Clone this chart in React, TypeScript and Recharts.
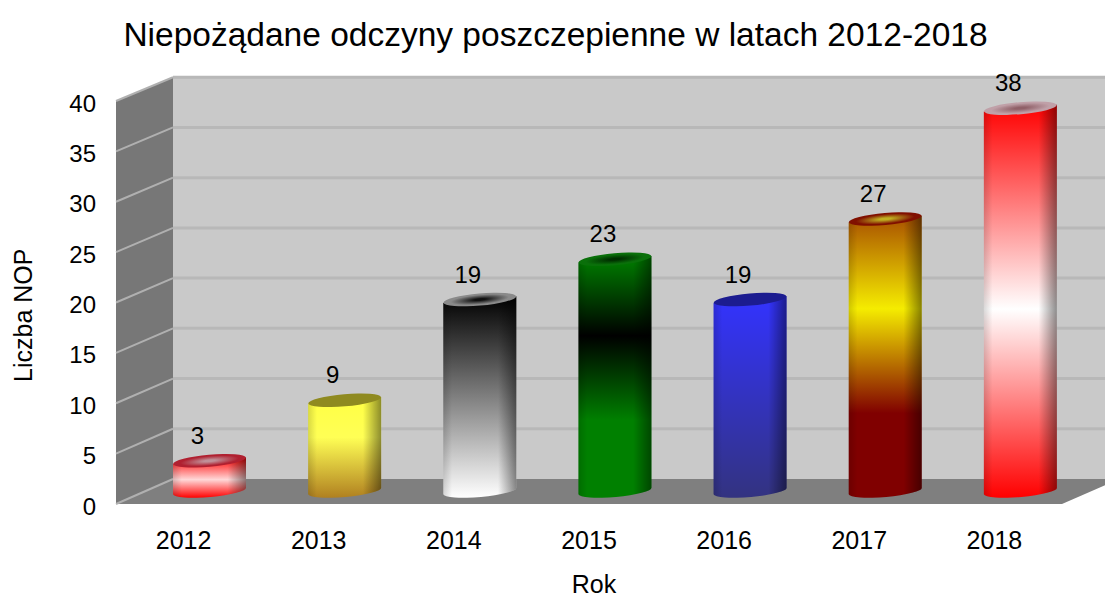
import { Bar, BarChart, CartesianGrid, LabelList, XAxis, YAxis } from "recharts"

const years = ["2012", "2013", "2014", "2015", "2016", "2017", "2018"]
const counts = [3, 9, 19, 23, 19, 27, 38]
const yTicks = [0, 5, 10, 15, 20, 25, 30, 35, 40]
const data = years.map((year, i) => ({ year, count: counts[i] }))

// top-to-bottom gradient stops for each cylinder
const barStops = [
  [[0, "#ff0000"], [0.55, "#ffd8d8"], [1, "#ff0000"]],
  [[0, "#ffff44"], [0.4, "#ffff55"], [1, "#b08020"]],
  [[0, "#000000"], [1, "#ffffff"]],
  [[0, "#008000"], [0.33, "#000000"], [0.68, "#008000"], [1, "#008000"]],
  [[0, "#3333ff"], [1, "#333380"]],
  [[0, "#a85000"], [0.33, "#f5ec00"], [0.7, "#800000"], [1, "#800000"]],
  [[0, "#ff0000"], [0.52, "#ffffff"], [1, "#ff0000"]],
]
// centre and rim colours of the top caps
const capInner = ["#c09098", "#8f8a20", "#111111", "#003000", "#1c1c90", "#c0b020", "#906068"]
const capOuter = ["#b02030", "#8f8a20", "#8a8a8a", "#0a700a", "#1c1c90", "#801000", "#c0a0a8"]

const chartWidth = 1105
const chartHeight = 597
const plotLeft = 116
const plotRight = 1062
const plotTop = 101
const plotBottom = 504
const depthX = 57
const depthY = 25
const barShiftX = 26
const barShiftY = 13
const yAxisWidth = 100
const xAxisHeight = 30

function backY(y: number) {
  return plotBottom - depthY - (plotBottom - y) * 0.997
}

function Frame() {
  return (
    <svg width={chartWidth} height={chartHeight} style={{ position: "absolute", left: 0, top: 0 }}>
      <rect x={plotLeft + depthX} y={backY(plotTop)} width={plotRight - plotLeft} height={plotBottom - plotTop} fill="#c9c9c9" />
      <line x1={plotLeft + depthX} x2={plotRight + depthX} y1={backY(plotTop)} y2={backY(plotTop)} stroke="#b5b5b5" strokeWidth={2} />
      <polygon
        points={`${plotLeft},${plotTop} ${plotLeft + depthX},${backY(plotTop)} ${plotLeft + depthX},${plotBottom - depthY} ${plotLeft},${plotBottom}`}
        fill="#777777"
      />
      <polygon
        points={`${plotLeft},${plotBottom} ${plotLeft + depthX},${plotBottom - depthY} ${plotRight + depthX},${plotBottom - depthY} ${plotRight},${plotBottom}`}
        fill="#7f7f7f"
      />
    </svg>
  )
}

function GridLine(props: any) {
  const { y1 } = props
  const yb = backY(y1)
  return (
    <g key={y1}>
      {y1 < plotBottom - 1 && (
        <line x1={plotLeft + depthX} x2={plotRight + depthX} y1={yb} y2={yb} stroke="#b8b8b8" strokeWidth={3} />
      )}
      <line x1={plotLeft} x2={plotLeft + depthX} y1={y1} y2={yb} stroke="#b0b0b0" strokeWidth={2} />
    </g>
  )
}

function Cylinder(props: any) {
  const { x, y, width, height, index } = props
  const rx = width / 2
  const ry = 6
  const cx = x + rx + barShiftX
  const top = y - barShiftY
  const bottom = y + height - barShiftY
  const tilt = 3.3
  const body = `M${cx - rx},${top + tilt} L${cx + rx},${top - tilt} L${cx + rx},${bottom - tilt} A${rx},${ry} -5 0 1 ${cx - rx},${bottom + tilt} Z`
  return (
    <g>
      <path d={body} fill={`url(#cyl${index})`} />
      <path d={body} fill="url(#cylShade)" />
      <ellipse cx={cx} cy={top} rx={rx} ry={ry} transform={`rotate(-5 ${cx} ${top})`} fill={`url(#cap${index})`} />
    </g>
  )
}

function ValueLabel(props: any) {
  const { x, y, width, value } = props
  return (
    <text x={x + width / 2 + 14} y={y - 30} textAnchor="middle" fontSize={24} fill="#000">
      {value}
    </text>
  )
}

export default function App() {
  return (
    <div style={{ position: "fixed", left: 0, top: 0, width: chartWidth, height: chartHeight, overflow: "hidden", background: "#fff", fontFamily: "'Liberation Sans', Arial, sans-serif" }}>
      <Frame />
      <div style={{ position: "absolute", left: 0, top: 0 }}>
        <BarChart
          width={chartWidth}
          height={chartHeight}
          data={data}
          margin={{
            top: plotTop,
            left: plotLeft - yAxisWidth,
            right: chartWidth - plotRight,
            bottom: chartHeight - plotBottom - xAxisHeight,
          }}
          barSize={73}
        >
          <defs>
            {barStops.map((stops, i) => (
              <linearGradient key={i} id={`cyl${i}`} x1="0" y1="0" x2="0" y2="1">
                {stops.map(([o, c]) => (
                  <stop key={String(o)} offset={o as number} stopColor={c as string} />
                ))}
              </linearGradient>
            ))}
            {capInner.map((c, i) => (
              <radialGradient key={i} id={`cap${i}`}>
                <stop offset="0.15" stopColor={c} />
                <stop offset="0.8" stopColor={capOuter[i]} />
              </radialGradient>
            ))}
            <linearGradient id="cylShade" x1="0" y1="0" x2="1" y2="0">
              <stop offset="0" stopColor="#000" stopOpacity={0.15} />
              <stop offset="0.12" stopColor="#000" stopOpacity={0} />
              <stop offset="0.75" stopColor="#000" stopOpacity={0} />
              <stop offset="1" stopColor="#000" stopOpacity={0.45} />
            </linearGradient>
          </defs>
          <CartesianGrid vertical={false} horizontal={GridLine as any} />
          <XAxis
            dataKey="year"
            height={xAxisHeight}
            axisLine={false}
            tickLine={false}
            tick={{ fontSize: 25, fill: "#000" }}
            tickMargin={21}
            label={{ value: "Rok", position: "bottom", offset: 41, dx: 5, fontSize: 25, fill: "#000" }}
          />
          <YAxis
            domain={[0, 40]}
            ticks={yTicks}
            interval={0}
            width={yAxisWidth}
            axisLine={false}
            tickLine={false}
            tick={{ fontSize: 24, fill: "#000", dy: 2 }}
            tickMargin={14}
            label={{ value: "Liczba NOP", angle: -90, position: "left", offset: -7, dy: -54, fontSize: 25, fill: "#000" }}
          />
          <Bar dataKey="count" isAnimationActive={false} shape={Cylinder}>
            <LabelList dataKey="count" content={ValueLabel} />
          </Bar>
          <text x={555.5} y={46} textAnchor="middle" fontSize={33.5} fill="#000">
            Niepożądane odczyny poszczepienne w latach 2012-2018
          </text>
        </BarChart>
      </div>
    </div>
  )
}
